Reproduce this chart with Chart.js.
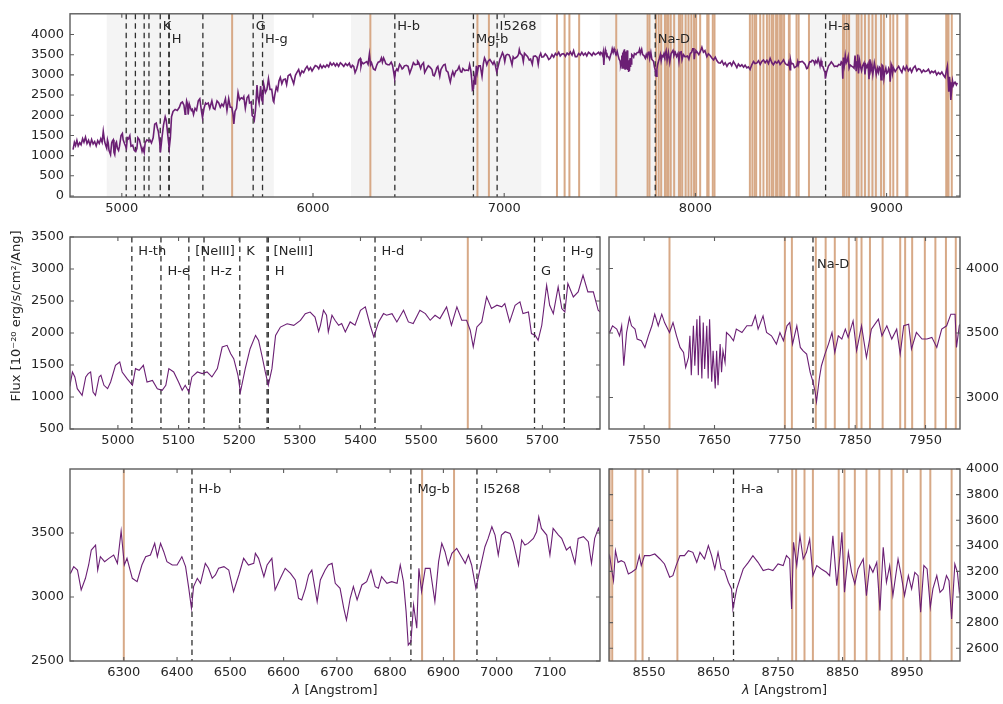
<!DOCTYPE html>
<html>
<head>
<meta charset="utf-8">
<script src="https://cdn.jsdelivr.net/npm/chart.js@4/dist/chart.umd.min.js"></script>
<style>
  body { margin: 0; background: #fff; }
  canvas { position: absolute; left: 0; top: 0; }
</style>
</head>
<body>
<canvas id="c0" width="1003" height="704"></canvas>
<canvas id="c1" width="1003" height="704"></canvas>
<canvas id="c2" width="1003" height="704"></canvas>
<canvas id="c3" width="1003" height="704"></canvas>
<canvas id="c4" width="1003" height="704"></canvas>
<script>
// spectrum, [wavelength (Angstrom), flux]
const spec4745 = [[4745,1150],[4752,1330],[4758,1250],[4765,1380],[4772,1240],[4780,1320],[4787,1270],[4795,1420],[4802,1330],[4810,1460],[4818,1300],[4826,1380],[4834,1260],[4842,1400],[4850,1290],[4858,1350],[4866,1240],[4874,1370],[4882,1300],[4890,1420],[4897,1330],[4903,1600],[4910,1350],[4916,1250]];
const spec4921 = [[4921,1183],[4925,1391],[4929,1313],[4933,1130],[4941,1026],[4947,1313],[4951,1365],[4955,1391],[4959,1078],[4963,1026],[4969,1313],[4972,1339],[4977,1183],[4983,1130],[4988,1234],[4996,1495],[5003,1547],[5007,1391],[5015,1287],[5024,1183],[5029,1443],[5035,1417],[5042,1495],[5048,1234],[5057,1260],[5065,1130],[5073,1104],[5079,1183],[5084,1443],[5092,1391],[5100,1234],[5106,1104],[5111,1183],[5117,1078],[5122,1313],[5131,1391],[5139,1365],[5147,1391],[5155,1313],[5164,1443],[5172,1781],[5180,1807],[5186,1677],[5191,1599],[5198,1339],[5202,1078],[5210,1443],[5218,1755],[5227,1963],[5232,1885],[5238,1625],[5243,1391],[5248,1183],[5254,1443],[5260,1963],[5268,2093],[5279,2145],[5290,2119],[5301,2197],[5309,2301],[5317,2327],[5325,2249],[5331,2025]];
const spec5334 = [[5334,2120],[5339,2355],[5344,2277],[5347,2017],[5353,2277],[5358,2199],[5364,2121],[5369,2147],[5375,2017],[5383,2173],[5391,2121],[5400,2355],[5408,2408],[5416,2121],[5422,1939],[5430,2173],[5438,2303],[5443,2277],[5452,2303],[5460,2173],[5471,2355],[5479,2173],[5487,2147],[5498,2355],[5507,2303],[5515,2199],[5523,2277],[5531,2225],[5542,2408],[5550,2121],[5559,2408],[5567,2199],[5575,2199],[5581,2043],[5586,1782],[5592,2095],[5600,2173],[5608,2564],[5616,2382],[5625,2434],[5633,2408],[5638,2460],[5646,2173],[5655,2434],[5663,2486],[5668,2303],[5677,2329],[5682,1991],[5688,1965],[5693,1887],[5699,2121],[5707,2746],[5712,2434],[5718,2303],[5726,2720],[5732,2382],[5737,2329],[5742,2772],[5751,2564],[5759,2642],[5767,2902],[5775,2642],[5784,2642],[5792,2355],[5795,2329]];
const spec5800 = [[5800,2500],[5808,2700],[5815,2620],[5822,2850],[5829,2937],[5837,2780],[5845,2880],[5855,2898],[5862,2760],[5870,2980],[5881,3016],[5890,2900],[5899,2780],[5908,2990],[5916,3060],[5925,3134],[5933,2990],[5942,3100],[5951,3056],[5960,3150],[5969,3213],[5978,3120],[5987,3180],[5995,3095],[6004,3170],[6012,3230],[6021,3213],[6030,3150],[6038,3250],[6047,3174],[6055,3230],[6064,3190],[6073,3252],[6082,3200],[6090,3300],[6099,3240],[6108,3292],[6117,3220],[6125,3280],[6134,3213],[6143,3300],[6152,3260],[6161,3210],[6170,3280],[6180,3230],[6190,3290],[6196,3200]];
const spec6200 = [[6200,3185],[6206,3237],[6213,3211],[6220,3055],[6228,3146],[6234,3250],[6239,3367],[6247,3406],[6251,3211],[6256,3315],[6264,3276],[6272,3302],[6281,3328],[6288,3263],[6295,3516],[6301,3250],[6306,3302],[6316,3146],[6325,3120],[6334,3250],[6341,3315],[6350,3328],[6358,3419],[6363,3315],[6369,3419],[6375,3354],[6381,3276],[6391,3250],[6400,3250],[6409,3315],[6416,3237],[6422,3068],[6427,2912],[6431,3081],[6438,3146],[6444,3107],[6453,3263],[6459,3224],[6466,3146],[6472,3172],[6478,3224],[6488,3237],[6497,3211],[6506,3042],[6516,3172],[6525,3302],[6534,3250],[6544,3263],[6547,3341],[6553,3302],[6563,3159],[6569,3250],[6578,3302],[6584,3055],[6594,3146],[6603,3224],[6613,3185],[6622,3133],[6628,2990],[6634,2977],[6641,3068],[6647,3172],[6653,3211],[6663,2964],[6669,3133],[6678,3211],[6684,3250]];
const spec6691 = [[6691,3263],[6697,3107],[6706,3068],[6713,2912],[6718,2820],[6725,2990],[6731,3081],[6738,2977],[6747,3094],[6756,3120],[6764,3211],[6772,3081],[6778,3068],[6784,3159],[6794,3107],[6803,3120],[6813,3107],[6819,3250],[6825,3120],[6830,2886],[6834,2625],[6839,2651],[6844,2938],[6850,2756],[6854,3224],[6859,3042],[6866,3224],[6875,3224],[6884,2964],[6891,3276],[6897,3419],[6903,3354],[6909,3250],[6916,3341],[6925,3380],[6934,3315],[6941,3263],[6947,3328],[6953,3250],[6961,3068],[6969,3224],[6978,3393],[6984,3458],[6991,3549],[6997,3484],[7003,3328],[7009,3484],[7016,3510],[7025,3497],[7031,3432],[7041,3250],[7047,3445],[7053,3406],[7059,3419],[7069,3458],[7075,3510],[7079,3627],[7084,3536],[7094,3484],[7100,3328],[7106,3536],[7116,3484],[7122,3458],[7131,3367],[7138,3393],[7147,3263],[7153,3458],[7163,3471],[7172,3432],[7178,3263],[7184,3458],[7191,3536]];
const spec7197 = [[7197,3440],[7206,3449],[7215,3520],[7224,3470],[7233,3380],[7241,3410],[7250,3500],[7259,3440],[7268,3530],[7276,3488],[7285,3560],[7293,3470],[7302,3520],[7311,3527],[7320,3460],[7329,3540],[7338,3500],[7346,3567],[7355,3490],[7363,3600],[7372,3450],[7380,3449],[7389,3530],[7398,3490],[7406,3560],[7415,3488],[7424,3540],[7432,3470],[7441,3560],[7450,3527],[7459,3480],[7467,3550],[7476,3500],[7485,3527],[7494,3560]];
const spec7501 = [[7501,3504],[7505,3556],[7511,3530],[7515,3478],[7518,3556],[7521,3246],[7525,3504],[7529,3620],[7532,3556],[7537,3530],[7540,3453],[7546,3440],[7551,3388],[7556,3478],[7561,3556],[7565,3646],[7570,3556],[7575,3646],[7579,3581],[7586,3504],[7591,3581],[7596,3478],[7601,3388],[7606,3349],[7609,3233],[7613,3310],[7615,3478],[7617,3173],[7620,3556],[7622,3246],[7625,3607],[7627,3173],[7629,3633],[7632,3147],[7634,3581],[7636,3220],[7639,3556],[7641,3147],[7643,3607],[7646,3121],[7648,3362],[7651,3070],[7653,3362],[7655,3095],[7658,3414],[7660,3195],[7662,3362],[7665,3272],[7667,3504],[7672,3478],[7677,3440],[7681,3530],[7689,3504],[7696,3556],[7703,3556],[7708,3633],[7712,3530],[7719,3633],[7724,3504],[7731,3478],[7738,3414],[7743,3504],[7748,3440],[7753,3556],[7757,3581],[7761,3414],[7767,3556],[7772,3388],[7776,3362],[7781,3336],[7786,3195],[7790,3121],[7793,3044],[7795,2966],[7799,3147],[7802,3246],[7807,3336],[7812,3414],[7817,3504],[7821,3349],[7826,3478],[7831,3453],[7836,3530],[7840,3466],[7847,3594],[7852,3362],[7859,3556],[7866,3310],[7873,3530],[7883,3607],[7888,3478],[7895,3556],[7902,3453],[7909,3530],[7914,3336],[7919,3556],[7926,3568],[7930,3375],[7937,3504],[7945,3453],[7952,3453],[7959,3466],[7966,3388],[7973,3530],[7980,3556],[7986,3646],[7992,3646],[7994,3388],[7998,3556]];
const spec8003 = [[8003,3600],[8010,3560],[8018,3500],[8026,3580],[8034,3685],[8042,3560],[8050,3600],[8060,3449],[8068,3520],[8077,3480],[8086,3420],[8095,3370],[8104,3440],[8113,3350],[8121,3300],[8130,3291],[8139,3350],[8148,3250],[8156,3300],[8165,3213],[8173,3280],[8182,3300],[8190,3230],[8199,3331],[8208,3260],[8217,3180],[8225,3270],[8234,3213],[8243,3250],[8252,3190],[8260,3240],[8269,3173],[8277,3200],[8286,3134],[8295,3250],[8304,3330],[8312,3280],[8321,3291],[8330,3350],[8339,3260],[8347,3330],[8356,3370],[8365,3300],[8374,3360],[8382,3280],[8391,3410],[8400,3300],[8408,3250],[8417,3330],[8426,3291],[8435,3350],[8443,3260],[8452,3310],[8461,3370],[8470,3280],[8478,3250],[8484,3240]];
const spec8489 = [[8489,3323],[8492,3219],[8495,3127],[8498,3362],[8502,3271],[8507,3284],[8512,3271],[8518,3180],[8523,3193],[8530,3219],[8535,3323],[8538,3245],[8543,3323],[8551,3323],[8559,3336],[8567,3297],[8574,3258],[8582,3154],[8587,3167],[8592,3245],[8598,3323],[8605,3323],[8611,3362],[8618,3349],[8624,3271],[8629,3349],[8636,3297],[8642,3401],[8647,3323],[8652,3219],[8657,3349],[8662,3219],[8667,3206],[8673,3115],[8678,3063],[8680,2907],[8686,3063],[8691,3141],[8696,3219],[8704,3271],[8711,3323],[8719,3271],[8727,3206],[8735,3219],[8742,3206],[8750,3258],[8758,3245],[8763,3323],[8768,3297],[8771,2907],[8774,3427],[8779,3245],[8784,3479],[8789,3297],[8794,3349],[8799,3453],[8804,3167],[8810,3245],[8817,3219],[8825,3193],[8830,3167],[8835,3479],[8841,3089],[8846,3323],[8849,3505],[8853,3037],[8859,3349],[8864,3193],[8869,3102],[8874,3219],[8882,3297],[8887,3011],[8892,3245],[8897,3193],[8903,3271],[8908,2894],[8913,3388],[8918,3115],[8923,3245],[8928,3011],[8936,3297],[8941,3167],[8946,3011],[8952,3167],[8957,3063],[8962,3193],[8967,3167],[8971,2881],[8976,3245],[8981,3219],[8986,2920],[8990,3063],[8996,3167],[9001,3037],[9006,3063],[9011,3167],[9015,3127],[9019,2829],[9024,3258],[9028,3193],[9031,3037]];
const spec9036 = [[9036,3173],[9045,3080],[9054,3150],[9063,3210],[9071,3134],[9080,3060],[9088,3200],[9097,3120],[9105,3213],[9114,3100],[9123,3160],[9131,3070],[9140,3173],[9149,3220],[9158,3100],[9166,3150],[9175,3134],[9184,3060],[9193,3120],[9201,3080],[9210,3095],[9219,3140],[9228,3040],[9236,3090],[9245,3056],[9254,3100],[9262,3000],[9271,3060],[9280,3016],[9289,3070],[9298,2990],[9306,2937],[9312,3080],[9318,3213],[9322,2900],[9325,2583],[9329,2950],[9332,2819],[9336,2380],[9341,2661],[9345,2850],[9349,2740],[9354,2800],[9358,2819],[9365,2750],[9370,2800]];

// sky lines (orange), shaded zoom ranges, absorption features (observed frame)
const skyLines = [5577,6300,6860,6920,7276,7316,7341,7392,7586,7750,7760,7794,7808,7821,7841,7852,7859,7871,7889,7914,7921,7931,7949,7964,7979,7993,8004,8025,8062,8069,8091,8100,8285,8298,8310,8318,8339,8356,8374,8387,8400,8408,8422,8430,8443,8452,8464,8489,8493,8529,8540,8594,8772,8778,8791,8804,8844,8853,8869,8887,8907,8926,8944,8971,8986,9019,9035,9056,9103,9109,9312,9318,9324,9341];
const grayBands = [[4921,5795],[6199,7194],[7500,7999],[8600,9000]];
const features = {'H-th':5023,'H-e':5071,'[NeIII]a':5117,'H-z':5142,'K':5201,'[NeIII]b':5246,'H':5248,'H-d':5424,'G':5687,'H-g':5736,'H-b':6428,'Mg-b':6839,'I5268':6963,'Na-D':7790,'H-a':8681};

// tick labels per panel
const topXTicks = [5000,6000,7000,8000,9000];
const topYTicks = [0,500,1000,1500,2000,2500,3000,3500,4000];
const mlXTicks = [5000,5100,5200,5300,5400,5500,5600,5700];
const mlYTicks = [500,1000,1500,2000,2500,3000,3500];
const mrXTicks = [7550,7650,7750,7850,7950];
const mrYTicks = [3000,3500,4000];
const blXTicks = [6300,6400,6500,6600,6700,6800,6900,7000,7100];
const blYTicks = [2500,3000,3500];
const brXTicks = [8550,8650,8750,8850,8950];
const brYTicks = [2600,2800,3000,3200,3400,3600,3800,4000];

const spectrum = [].concat(spec4745, spec4921, spec5334, spec5800, spec6200, spec6691,
  spec7197, spec7501, spec8003, spec8489, spec9036).map(([w, f]) => ({x: w, y: f}));

const FONT = 'DejaVu Sans';
const INK = '#262626';
const FRAME = '#5c5c5c';

const allDashed = Object.keys(features);
const panels = [
  {id: 'c0', area: [70, 5, 960, 197], xr: [4729, 9384], yr: [-25, 4513], xt: topXTicks, yt: topYTicks,
   side: 'left', bands: true, lw: 1.6, dashed: allDashed, ldx: 2.5, rows: [12.5, 26],
   labels: [['K','K',0],['H','H',1],['G','G',0],['H-g','H-g',1],['H-b','H-b',0],['Mg-b','Mg-b',1],['I5268','I5268',0],['Na-D','Na-D',1],['H-a','H-a',0]]},
  {id: 'c1', area: [70, 237, 600, 429], xr: [4921, 5795], yr: [500, 3500], xt: mlXTicks, yt: mlYTicks,
   side: 'left', lw: 1.1, dashed: ['H-th','H-e','[NeIII]a','H-z','K','[NeIII]b','H','H-d','G','H-g'], ldx: 6.5, rows: [15, 35],
   labels: [['H-th','H-th',0],['H-e','H-e',1],['[NeIII]','[NeIII]a',0],['H-z','H-z',1],['K','K',0],['[NeIII]','[NeIII]b',0],['H','H',1],['H-d','H-d',0],['G','G',1],['H-g','H-g',0]],
   yTitle: true},
  {id: 'c2', area: [609, 237, 960, 429], xr: [7500, 7999], yr: [2755, 4245], xt: mrXTicks, yt: mrYTicks,
   side: 'right', lw: 1.1, dashed: ['Na-D'], ldx: 4, rows: [28], labels: [['Na-D','Na-D',0]]},
  {id: 'c3', area: [70, 469, 600, 661], xr: [6199, 7194], yr: [2500, 4000], xt: blXTicks, yt: blYTicks,
   side: 'left', lw: 1.1, dashed: ['H-b','Mg-b','I5268'], ldx: 6.5, rows: [21],
   labels: [['H-b','H-b',0],['Mg-b','Mg-b',0],['I5268','I5268',0]], xTitle: true},
  {id: 'c4', area: [609, 469, 960, 661], xr: [8488, 9032], yr: [2500, 4000], xt: brXTicks, yt: brYTicks,
   side: 'right', lw: 1.1, dashed: ['H-a'], ldx: 7.5, rows: [21], labels: [['H-a','H-a',0]], xTitle: true}
];

function vline(ctx, px, a) {
  ctx.beginPath(); ctx.moveTo(px, a.top); ctx.lineTo(px, a.bottom); ctx.stroke();
}

function overlay(p) {
  return {
    id: 'overlay',
    beforeDatasetsDraw(chart) {
      const {ctx, chartArea: a, scales: {x}} = chart;
      ctx.save();
      ctx.beginPath(); ctx.rect(a.left, a.top, a.width, a.height); ctx.clip();
      if (p.bands) {
        ctx.fillStyle = '#f4f4f4';
        grayBands.forEach(([lo, hi]) => {
          const x0 = x.getPixelForValue(lo), x1 = x.getPixelForValue(hi);
          ctx.fillRect(x0, a.top, x1 - x0, a.height);
        });
      }
      ctx.strokeStyle = '#d7a987'; ctx.lineWidth = 2;
      skyLines.forEach(w => vline(ctx, x.getPixelForValue(w), a));
      ctx.strokeStyle = '#2e2e2e'; ctx.lineWidth = 1.3; ctx.setLineDash([5.5, 4]);
      p.dashed.forEach(k => vline(ctx, x.getPixelForValue(features[k]), a));
      ctx.restore();
    },
    afterDatasetsDraw(chart) {
      const {ctx, chartArea: a, scales: {x, y}} = chart;
      ctx.save();
      // frame and inward ticks on all four sides
      ctx.strokeStyle = FRAME; ctx.lineWidth = 1.4;
      ctx.strokeRect(a.left, a.top, a.width, a.height);
      ctx.lineWidth = 1.1;
      ctx.beginPath();
      p.xt.forEach(v => {
        const px = x.getPixelForValue(v);
        ctx.moveTo(px, a.bottom); ctx.lineTo(px, a.bottom - 4);
        ctx.moveTo(px, a.top); ctx.lineTo(px, a.top + 4);
      });
      p.yt.forEach(v => {
        const py = y.getPixelForValue(v);
        ctx.moveTo(a.left, py); ctx.lineTo(a.left + 4, py);
        ctx.moveTo(a.right, py); ctx.lineTo(a.right - 4, py);
      });
      ctx.stroke();
      // feature labels
      ctx.fillStyle = INK; ctx.font = '13px ' + FONT;
      ctx.textAlign = 'left'; ctx.textBaseline = 'middle';
      p.labels.forEach(([txt, k, row]) => {
        ctx.fillText(txt, x.getPixelForValue(features[k]) + p.ldx, a.top + p.rows[row]);
      });
      if (p.xTitle) {
        const cx = (a.left + a.right) / 2, cy = a.bottom + 30;
        ctx.font = 'italic 13px ' + FONT;
        const w1 = ctx.measureText('λ').width;
        ctx.font = '13px ' + FONT;
        const w2 = ctx.measureText(' [Angstrom]').width;
        const x0 = cx - (w1 + w2) / 2;
        ctx.font = 'italic 13px ' + FONT;
        ctx.fillText('λ', x0, cy);
        ctx.font = '13px ' + FONT;
        ctx.fillText(' [Angstrom]', x0 + w1, cy);
      }
      if (p.yTitle) {
        ctx.translate(17, 316);
        ctx.rotate(-Math.PI / 2);
        ctx.textAlign = 'center';
        ctx.fillText('Flux [10⁻²⁰ erg/s/cm²/Ang]', 0, 0);
      }
      ctx.restore();
    }
  };
}

function makeChart(p) {
  const [L, T, R, B] = p.area;
  const yw = 60, xh = 30;
  const padding = p.side === 'left'
    ? {left: L - yw, right: 1003 - R, top: T, bottom: 704 - B - xh}
    : {left: L, right: 1003 - R - yw, top: T, bottom: 704 - B - xh};
  const tickFont = {family: FONT, size: 13};
  return new Chart(document.getElementById(p.id), {
    type: 'line',
    data: {
      datasets: [{
        data: spectrum,
        borderColor: '#6b1f74',
        borderWidth: p.lw,
        pointRadius: 0,
        tension: 0,
        fill: false
      }]
    },
    options: {
      responsive: false,
      animation: false,
      layout: {padding},
      plugins: {legend: {display: false}, tooltip: {enabled: false}},
      scales: {
        x: {
          type: 'linear', position: 'bottom', min: p.xr[0], max: p.xr[1],
          grid: {display: false, drawTicks: false}, border: {display: false},
          afterBuildTicks: s => { s.ticks = p.xt.map(v => ({value: v})); },
          afterFit: s => { s.height = xh; },
          ticks: {color: INK, font: tickFont, padding: 4, maxRotation: 0, autoSkip: false, callback: v => String(v)}
        },
        y: {
          type: 'linear', position: p.side, min: p.yr[0], max: p.yr[1],
          grid: {display: false, drawTicks: false}, border: {display: false},
          afterBuildTicks: s => { s.ticks = p.yt.map(v => ({value: v})); },
          afterFit: s => { s.width = yw; },
          ticks: {color: INK, font: tickFont, padding: 6, autoSkip: false, callback: v => String(v)}
        }
      }
    },
    plugins: [overlay(p)]
  });
}

panels.forEach(makeChart);
</script>
</body>
</html>
